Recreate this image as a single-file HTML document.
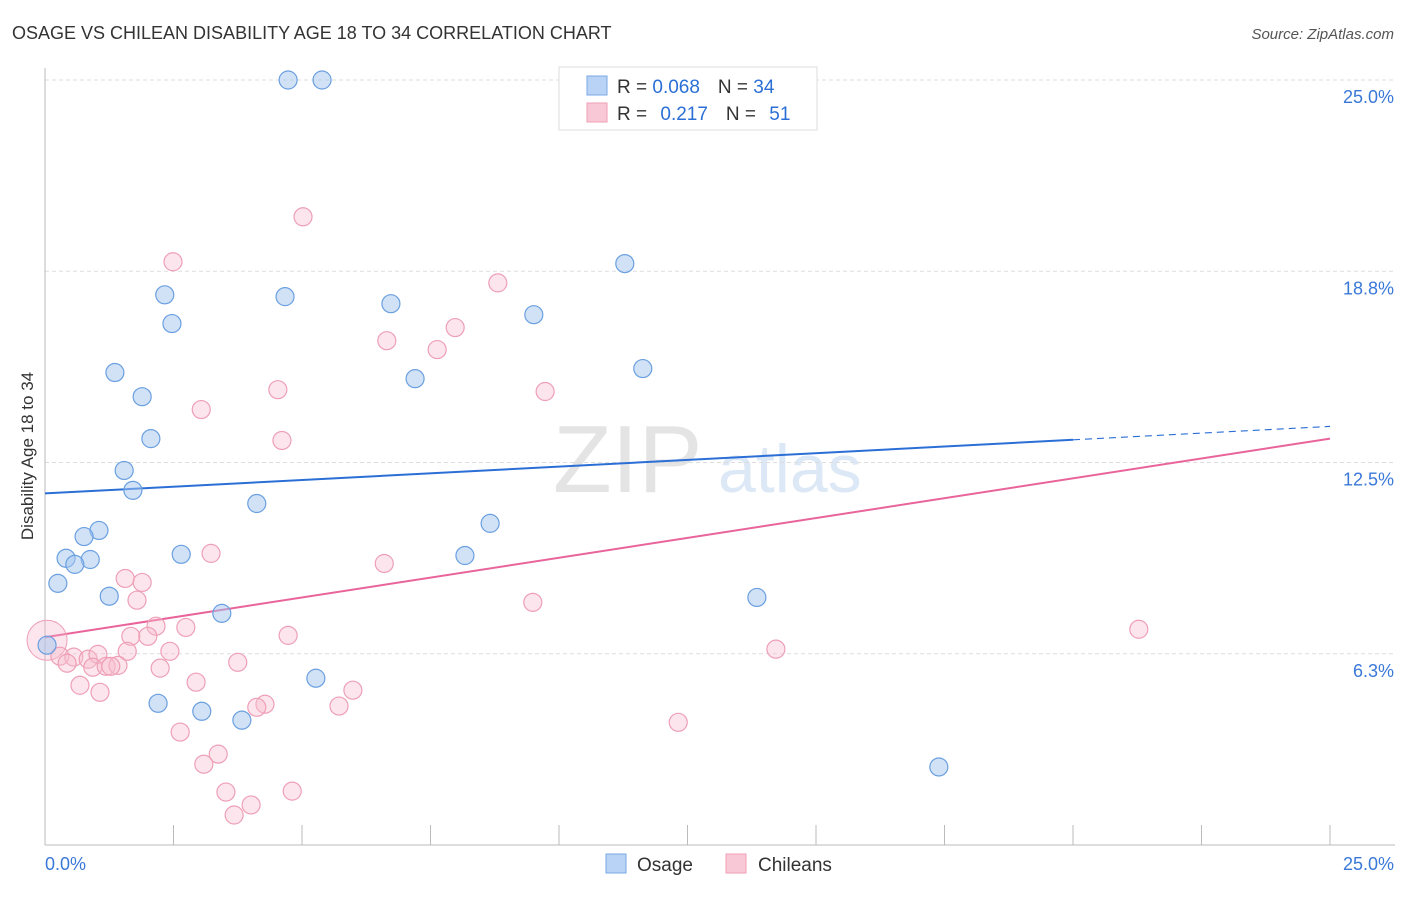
<!DOCTYPE html>
<html><head><meta charset="utf-8"><style>
body{margin:0;background:#fff;font-family:"Liberation Sans",sans-serif;}
svg text{font-family:"Liberation Sans",sans-serif;}
</style></head><body>
<svg id="chart" width="1406" height="892" xmlns="http://www.w3.org/2000/svg">
<text x="12" y="39" font-size="18" fill="#333">OSAGE VS CHILEAN DISABILITY AGE 18 TO 34 CORRELATION CHART</text>
<text x="1394" y="39" font-size="15" fill="#555" font-style="italic" text-anchor="end">Source: ZipAtlas.com</text>
<g>
<text x="553" y="492" font-size="96" fill="#e4e4e4" font-family="Liberation Serif,serif">ZIP</text>
<text x="718" y="492" font-size="68" fill="#dce8f6">atlas</text>
</g>
<g id="grid"></g>
<line x1="45" y1="68" x2="45" y2="845" stroke="#bbb"/>
<line x1="45" y1="845" x2="1395" y2="845" stroke="#bbb"/>
<g id="xticks"></g>
<text x="45" y="870" font-size="18" fill="#3a78d8">0.0%</text>
<text x="1394" y="870" font-size="18" fill="#3a78d8" text-anchor="end">25.0%</text>
<text transform="translate(33,456) rotate(-90)" font-size="17" fill="#333" text-anchor="middle">Disability Age 18 to 34</text>
<g id="lines"></g>
<g id="points"></g>
<g>
<rect x="559" y="67" width="258" height="63" fill="#fff" stroke="#ddd"/>
<rect x="587" y="76" width="20" height="19" fill="#b8d3f5" stroke="#7aa8e6"/>
<rect x="587" y="103" width="20" height="19" fill="#f9c8d6" stroke="#ee9fb7"/>
<text x="617" y="93" font-size="19" fill="#333">R = <tspan fill="#2b6fd6">0.068</tspan><tspan dx="18">N = </tspan><tspan fill="#2b6fd6">34</tspan></text>
<text x="617" y="120" font-size="19" fill="#333">R = <tspan fill="#2b6fd6" dx="8">0.217</tspan><tspan dx="18">N = </tspan><tspan fill="#2b6fd6" dx="8">51</tspan></text>
</g>
<g>
<rect x="606" y="854" width="20" height="19" fill="#b8d3f5" stroke="#7aa8e6"/>
<text x="637" y="871" font-size="19" fill="#333">Osage</text>
<rect x="726" y="854" width="20" height="19" fill="#f9c8d6" stroke="#ee9fb7"/>
<text x="758" y="871" font-size="19" fill="#333">Chileans</text>
</g>
</svg>
<script>
const yTicks=[6.25,12.5,18.75,25];
const yTickLabels=["6.3%","12.5%","18.8%","25.0%"];
const xTickVals=[0,2.5,5,7.5,10,12.5,15,17.5,20,22.5,25];
const osageX=[4.73,5.39,11.28,2.33,4.67,6.73,2.47,9.51,1.36,7.20,11.63,1.89,2.06,1.54,1.71,4.12,8.66,1.05,0.76,0.41,0.88,0.58,2.65,8.17,0.25,1.25,13.85,3.44,5.27,2.20,3.05,3.83,17.39,0.04];
const osageY=[25.0,25.0,19.0,17.98,17.92,17.69,17.04,17.33,15.44,15.24,15.57,14.65,13.28,12.24,11.59,11.16,10.51,10.28,10.08,9.37,9.33,9.17,9.50,9.46,8.55,8.13,8.09,7.57,5.45,4.63,4.37,4.08,2.55,6.53];
const chileX=[5.02,2.49,8.81,7.98,6.65,7.63,4.53,9.73,3.04,4.61,3.23,6.60,1.56,1.89,1.79,9.49,2.74,2.16,21.28,1.67,2.0,4.73,2.43,1.60,14.22,0.29,0.56,0.84,1.03,0.43,0.93,1.19,1.42,1.28,2.24,3.75,2.94,0.68,1.07,5.99,4.28,4.12,5.72,2.63,12.32,3.37,3.09,3.52,4.81,4.01,3.68];
const chileY=[20.53,19.06,18.37,16.91,16.48,16.19,14.88,14.82,14.23,13.22,9.53,9.20,8.71,8.58,8.0,7.93,7.11,7.15,7.05,6.82,6.82,6.85,6.33,6.33,6.40,6.17,6.14,6.07,6.23,5.94,5.81,5.84,5.87,5.84,5.78,5.97,5.32,5.22,4.99,5.06,4.60,4.50,4.54,3.69,4.01,2.97,2.64,1.73,1.76,1.31,0.98];
const chileBigX=[0.04];
const chileBigY=[6.69];
const osageTrend=[11.49,13.68];
const chileTrend=[6.79,13.28];
const osageSolidEnd=20;
const xs=v=>45+v*(1285/25);
const ys=v=>845-v*(765/25);
const NS="http://www.w3.org/2000/svg";
function mk(tag,attrs,parent){const e=document.createElementNS(NS,tag);for(const k in attrs)e.setAttribute(k,attrs[k]);parent.appendChild(e);return e;}
const grid=document.getElementById('grid');
yTicks.forEach((t,i)=>{
 const l=mk('line',{x1:45,x2:1395,y1:ys(t),y2:ys(t),stroke:'#ddd','stroke-dasharray':'4,3'},grid);
 
 
 const tx=mk('text',{x:1394,y:ys(t)+23,'font-size':18,fill:'#3a78d8','text-anchor':'end'},grid);
 tx.textContent=yTickLabels[i];
 
 
});
const xt=document.getElementById('xticks');
xTickVals.forEach(v=>{
 const l=mk('line',{x1:xs(v),x2:xs(v),y1:825,y2:845,stroke:'#bbb'},xt);
 
 
});
const lines=document.getElementById('lines');
const oAt=v=>osageTrend[0]+(osageTrend[1]-osageTrend[0])*v/25;
let l1=mk('line',{x1:xs(0),y1:ys(oAt(0)),x2:xs(osageSolidEnd),y2:ys(oAt(osageSolidEnd)),stroke:'#2b6fd6','stroke-width':2},lines);


let l2=mk('line',{x1:xs(osageSolidEnd),y1:ys(oAt(osageSolidEnd)),x2:xs(25),y2:ys(oAt(25)),stroke:'#2b6fd6','stroke-width':1.2,'stroke-dasharray':'7,5'},lines);


let l3=mk('line',{x1:xs(0),y1:ys(chileTrend[0]),x2:xs(25),y2:ys(chileTrend[1]),stroke:'#e8649a','stroke-width':2},lines);


const pts=document.getElementById('points');
chileBigX.forEach((x,i)=>{
 const big=mk('circle',{cx:xs(x),cy:ys(chileBigY[i]),r:20,fill:'rgba(246,180,200,0.35)',stroke:'#ee9fb7'},pts);
 
 
});
chileX.forEach((x,i)=>{
 const c=mk('circle',{cx:xs(x),cy:ys(chileY[i]),r:9,fill:'rgba(248,190,208,0.4)',stroke:'#ee9fb7','stroke-width':1.2},pts);
 
 
});
osageX.forEach((x,i)=>{
 const c=mk('circle',{cx:xs(x),cy:ys(osageY[i]),r:9,fill:'rgba(164,198,240,0.5)',stroke:'#6a9fe0','stroke-width':1.2},pts);
 
 
});
</script>
</body></html>
